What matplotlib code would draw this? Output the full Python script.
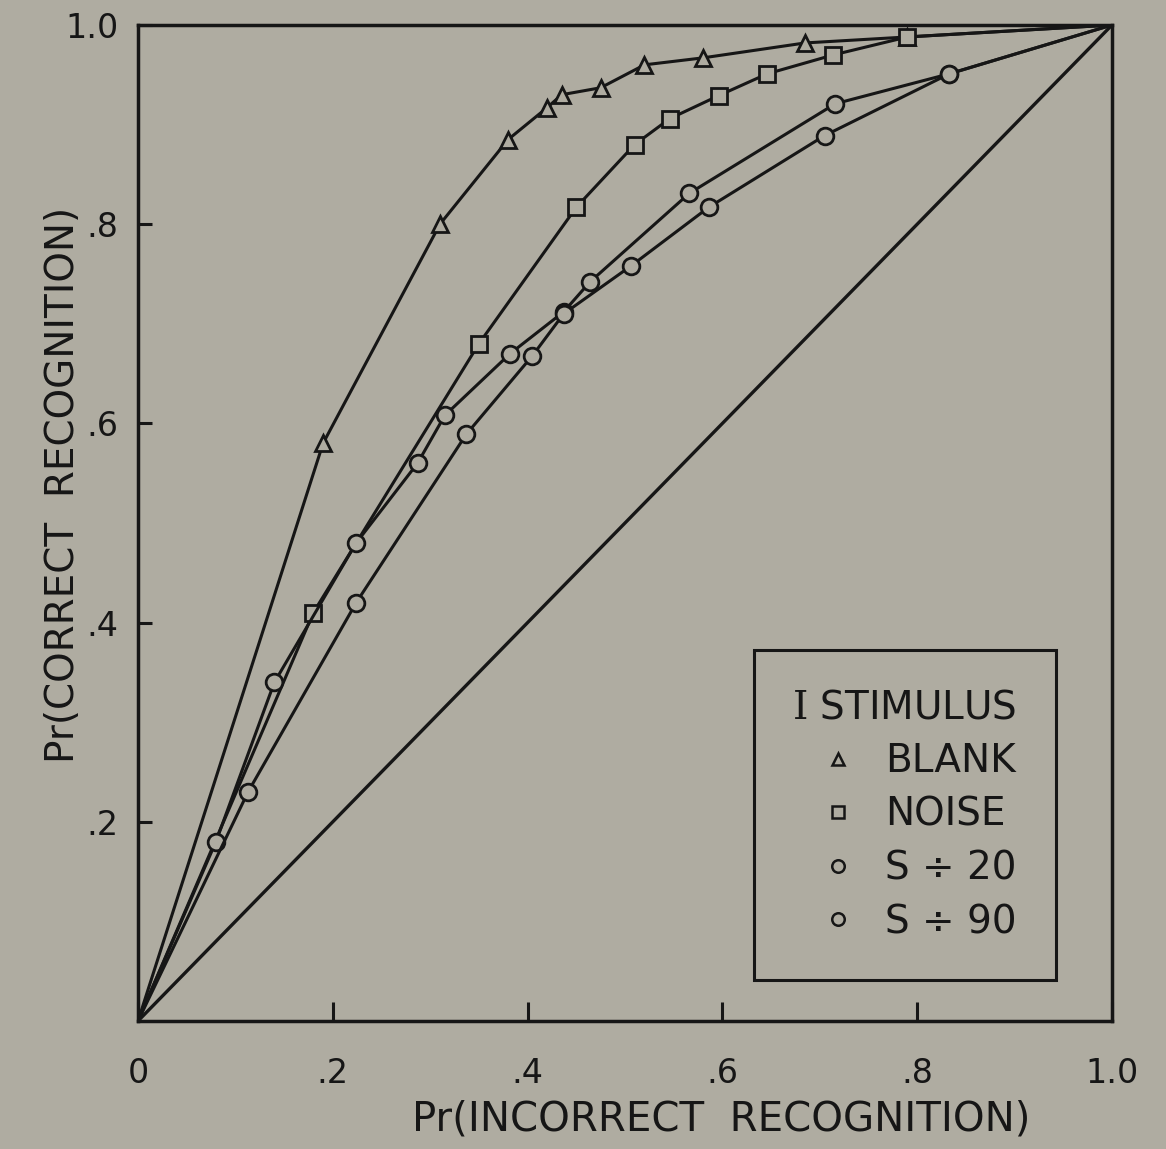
import matplotlib
matplotlib.use('Agg')
import matplotlib.pyplot as plt
from matplotlib.lines import Line2D

plt.rcParams['font.family'] = ['DejaVu Sans']
plt.rcParams['mathtext.fontset'] = 'custom'
plt.rcParams['mathtext.rm'] = 'DejaVu Serif'

# ---- data ----
blank_x = [0.0, 0.19, 0.31, 0.38, 0.42, 0.435, 0.475, 0.52, 0.58, 0.685, 0.79, 1.0]
blank_y = [0.0, 0.58, 0.80, 0.885, 0.917, 0.93, 0.937, 0.96, 0.967, 0.982, 0.988, 1.0]

noise_x = [0.0, 0.18, 0.35, 0.45, 0.51, 0.546, 0.596, 0.646, 0.714, 0.79, 1.0]
noise_y = [0.0, 0.41, 0.68, 0.817, 0.88, 0.906, 0.929, 0.951, 0.97, 0.988, 1.0]

s20_x = [0.0, 0.08, 0.14, 0.224, 0.287, 0.315, 0.382, 0.437, 0.464, 0.566, 0.716, 0.833, 1.0]
s20_y = [0.0, 0.18, 0.34, 0.48, 0.56, 0.608, 0.67, 0.712, 0.742, 0.831, 0.921, 0.951, 1.0]

s90_x = [0.0, 0.113, 0.224, 0.337, 0.405, 0.437, 0.506, 0.586, 0.705, 0.833, 1.0]
s90_y = [0.0, 0.23, 0.42, 0.589, 0.668, 0.71, 0.758, 0.817, 0.889, 0.951, 1.0]

chance_x = [0.0, 1.0]
chance_y = [0.0, 1.0]

x_ticks = [0.0, 0.2, 0.4, 0.6, 0.8, 1.0]
x_ticklabels = ['0', '.2', '.4', '.6', '.8', '1.0']
y_ticks = [0.2, 0.4, 0.6, 0.8, 1.0]
y_ticklabels = ['.2', '.4', '.6', '.8', '1.0']

legend_title = r'$\mathrm{I}$ STIMULUS'
series_labels = ['BLANK', 'NOISE', 'S \u00f7 20', 'S \u00f7 90']
series_markers = ['^', 's', 'o', 'o']

xlabel = 'Pr(INCORRECT  RECOGNITION)'
ylabel = 'Pr(CORRECT  RECOGNITION)'

# ---- style ----
bg = '#afaca1'
ink = '#161616'

W, H = 1166, 1149
fig = plt.figure(figsize=(W / 100, H / 100), dpi=100, facecolor=bg)
ax = fig.add_axes([138 / W, 1 - 1021 / H, 974 / W, 996 / H], facecolor=bg)

ax.plot(chance_x, chance_y, color=ink, lw=2.4, solid_capstyle='butt')

series = [(blank_x, blank_y), (noise_x, noise_y), (s20_x, s20_y), (s90_x, s90_y)]
for (xs, ys), mk in zip(series, series_markers):
    ms = 12 if mk == 'o' else 11
    ax.plot(xs, ys, color=ink, lw=2.2, marker=mk, ms=ms, mfc=bg, mec=ink,
            mew=2.0, markevery=slice(1, len(xs) - 1))

ax.set_xlim(0, 1)
ax.set_ylim(0, 1)
for s in ax.spines.values():
    s.set_linewidth(2.5)
    s.set_color(ink)

ax.set_xticks(x_ticks)
ax.set_xticklabels(x_ticklabels)
ax.set_yticks(y_ticks)
ax.set_yticklabels(y_ticklabels)
ax.tick_params(axis='x', direction='in', length=14, width=2.2, pad=26,
               labelsize=24, colors=ink)
ax.tick_params(axis='y', direction='in', length=10, width=2.2, pad=14,
               labelsize=24, colors=ink)

ax.set_xlabel(xlabel, fontsize=29, color=ink)
ax.xaxis.set_label_coords(0.599, -0.079)
ax.set_ylabel(ylabel, fontsize=28, color=ink)
ax.yaxis.set_label_coords(-0.058, 0.538)

handles = [Line2D([], [], ls='none', marker=m, ms=9, mfc=bg, mec=ink, mew=1.8)
           for m in series_markers]
leg = ax.legend(handles, series_labels, title=legend_title,
                loc='upper left', bbox_to_anchor=(0.632, 0.3725),
                fontsize=28, title_fontsize=28, frameon=True, fancybox=False,
                edgecolor=ink, facecolor=bg, framealpha=1.0,
                handlelength=1.4, handletextpad=0.5, labelspacing=0.4,
                borderpad=1.0, borderaxespad=0.0, alignment='right')
leg.get_frame().set_linewidth(2.2)
for t in leg.get_texts():
    t.set_color(ink)
leg.get_title().set_color(ink)

fig.savefig('out.png', dpi=100, facecolor=bg)
